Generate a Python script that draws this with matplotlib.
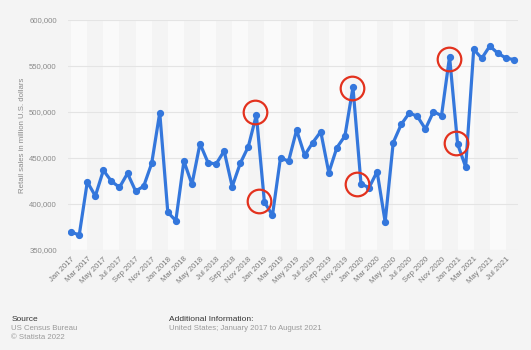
import numpy as np
import matplotlib
matplotlib.use("Agg")
from matplotlib import pyplot as plt
from matplotlib import transforms

plt.rcParams['font.family'] = ['Liberation Sans', 'DejaVu Sans']

# Monthly retail sales, Jan 2017 - Aug 2021 (million U.S. dollars).
months = ["Jan", "Feb", "Mar", "Apr", "May", "Jun",
          "Jul", "Aug", "Sep", "Oct", "Nov", "Dec"]
years = [2017, 2018, 2019, 2020, 2021]
sales = [369500, 366300, 424000, 408700, 436600, 424700, 418100, 433300,
         414100, 419200, 444200, 499300,
         391000, 381900, 446700, 421400, 465600, 444900, 443500, 457600,
         418900, 444200, 462300, 496800,
         402200, 387700, 450400, 446400, 480400, 452900, 466700, 478600,
         434100, 461200, 473900, 526800,
         421800, 417800, 435200, 380500, 466700, 486600, 498900, 495300,
         481500, 500400, 496000, 560200,
         465200, 440200, 568100, 558300, 571700, 563800, 558700, 556900]
# Months singled out with a red ring (Dec / Jan around each holiday season).
highlight = [23, 24, 35, 36, 47, 48]
# small nudge of each ring in pixels (dx, dy)
ring_shift = [(-1, 3), (-5, 1), (-1, -1), (-4, 0), (-1, -2), (-2, 1)]

labels = ["{} {}".format(m, y) for y in years for m in months][:len(sales)]
x = np.arange(len(sales))

bg = "#f4f4f4"
fig = plt.figure(figsize=(5.31, 3.5), dpi=100, facecolor=bg)
ax = fig.add_axes([0.128, 0.2857, 0.8475, 0.6572])
ax.set_facecolor(bg)

# alternating column shading, two months per band
for start in range(0, len(sales), 4):
    ax.axvspan(start, start + 2, color="#fafafa", lw=0, zorder=0)

ax.set_ylim(350000, 600000)
ax.set_xlim(-0.4, len(sales) - 0.5)
yt = np.arange(350000, 600001, 50000)
ax.set_yticks(yt)
ax.set_yticklabels(["{:,}".format(v) for v in yt])
for v in yt:
    ax.axhline(v, color="#e4e4e4", lw=0.8, zorder=1)

ax.plot(x, sales, color="#3477dc", lw=2.3, marker="o", ms=4.2,
        zorder=3, solid_joinstyle="round")
for i, (dx, dy) in zip(highlight, ring_shift):
    shift = transforms.ScaledTranslation(dx / 100, dy / 100, fig.dpi_scale_trans)
    ax.plot(x[i], sales[i], ls="none", marker="o", ms=17, mfc="none",
            mec="#e3321e", mew=1.6, zorder=4, clip_on=False,
            transform=ax.transData + shift)

ax.set_xticks(x[::2])
ax.set_xticklabels(labels[::2], rotation=45, ha="right",
                   rotation_mode="anchor", fontsize=5.6, color="#777777")
ax.tick_params(axis="x", length=0, pad=4)
ax.tick_params(axis="y", length=0, pad=8, labelsize=5.6, labelcolor="#8a8a8a")
for s in ax.spines.values():
    s.set_visible(False)

ax.set_ylabel("Retail sales in million U.S. dollars", fontsize=5.6,
              color="#8a8a8a", labelpad=2)

fig.text(0.021, 0.088, "Source", fontsize=6, color="#333333", va="center")
fig.text(0.021, 0.062, "US Census Bureau", fontsize=5.6, color="#9a9a9a",
         va="center")
fig.text(0.021, 0.036, "\u00a9 Statista 2022", fontsize=5.6, color="#9a9a9a",
         va="center")
fig.text(0.318, 0.088, "Additional Information:", fontsize=6, color="#333333",
         va="center")
fig.text(0.318, 0.062, "United States; January 2017 to August 2021",
         fontsize=5.6, color="#9a9a9a", va="center")

fig.savefig("out.png", dpi=100, facecolor=bg)
